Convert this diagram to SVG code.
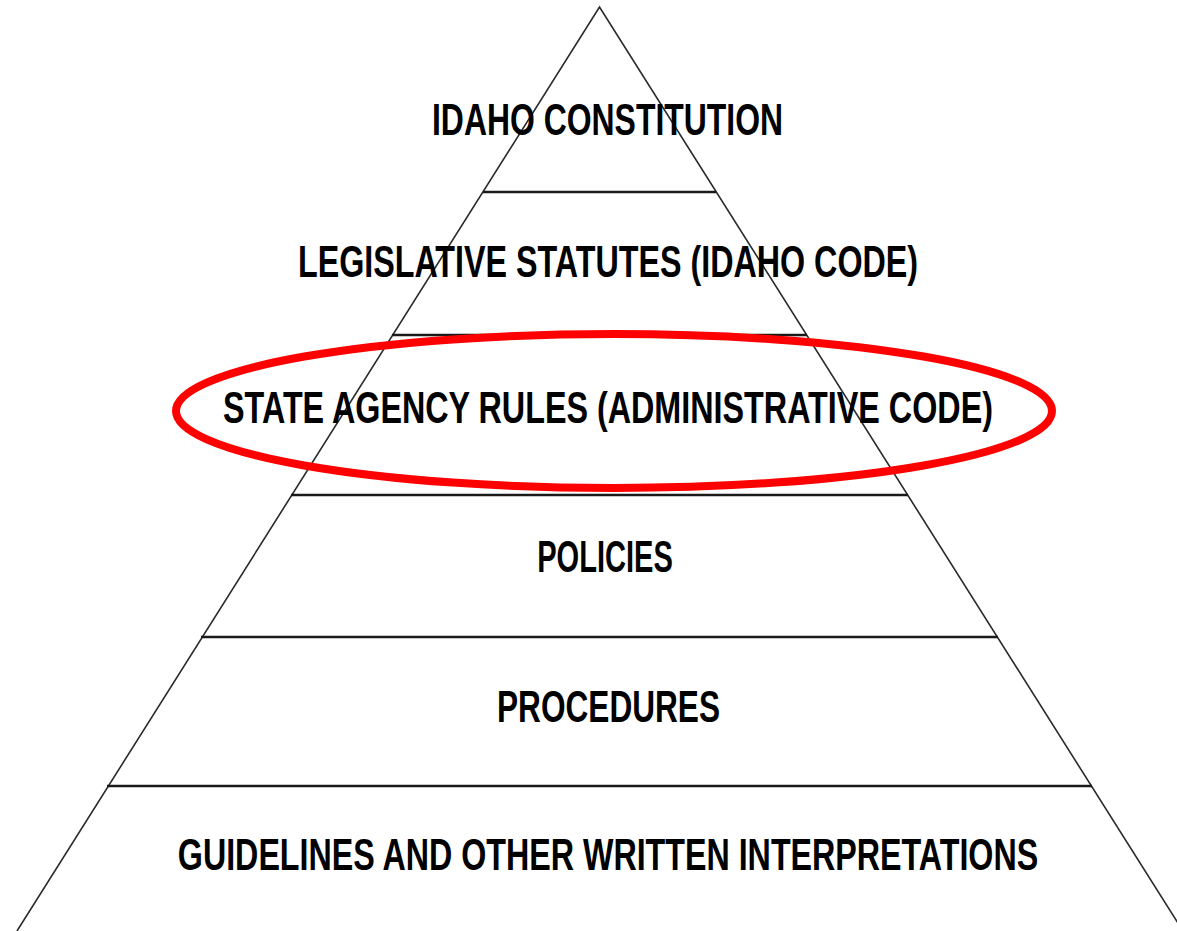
<svg xmlns="http://www.w3.org/2000/svg" width="1177" height="931" viewBox="0 0 1177 931">
  <style>
    .edge { fill: none; stroke: #2a2a2a; stroke-width: 1.6; }
    .tier { stroke: #1a1a1a; stroke-width: 2.6; }
    .label { font-family: "Liberation Sans", Arial, sans-serif; font-weight: bold; font-size: 45px; fill: #000; text-anchor: middle; }
    .mark { fill: none; stroke: #ff0000; stroke-width: 8; }
  </style>
  <rect width="1177" height="931" fill="#ffffff"/>
  <g id="pyramid">
    <polyline class="edge" points="17,931 599.5,7 1183,931"/>
  </g>
  <g id="connectors">
    <line class="tier" x1="483" y1="192" x2="716" y2="192"/>
    <line class="tier" x1="392" y1="335" x2="807" y2="335"/>
    <line class="tier" x1="291" y1="495" x2="908" y2="495"/>
    <line class="tier" x1="201" y1="637" x2="998" y2="637"/>
    <line class="tier" x1="107" y1="786" x2="1092" y2="786"/>
  </g>
  <g id="tier-constitution" transform="translate(607.5,135) scale(0.78,1)">
    <text class="label" x="0" y="0" textLength="450" lengthAdjust="spacingAndGlyphs">IDAHO CONSTITUTION</text>
  </g>
  <g id="tier-statutes" transform="translate(608,277) scale(0.78,1)">
    <text class="label" x="0" y="0" textLength="795" lengthAdjust="spacingAndGlyphs">LEGISLATIVE STATUTES (IDAHO CODE)</text>
  </g>
  <g id="tier-rules" transform="translate(608,423) scale(0.78,1)">
    <text class="label" x="0" y="0" textLength="987" lengthAdjust="spacingAndGlyphs">STATE AGENCY RULES (ADMINISTRATIVE CODE)</text>
  </g>
  <g id="tier-policies" transform="translate(605,572) scale(0.78,1)">
    <text class="label" x="0" y="0" textLength="174" lengthAdjust="spacingAndGlyphs">POLICIES</text>
  </g>
  <g id="tier-procedures" transform="translate(608.5,722) scale(0.78,1)">
    <text class="label" x="0" y="0" textLength="286" lengthAdjust="spacingAndGlyphs">PROCEDURES</text>
  </g>
  <g id="tier-guidelines" transform="translate(608,870) scale(0.78,1)">
    <text class="label" x="0" y="0" textLength="1103" lengthAdjust="spacingAndGlyphs">GUIDELINES AND OTHER WRITTEN INTERPRETATIONS</text>
  </g>
  <g id="highlight">
    <ellipse class="mark" cx="614" cy="411" rx="438" ry="77"/>
  </g>
</svg>
